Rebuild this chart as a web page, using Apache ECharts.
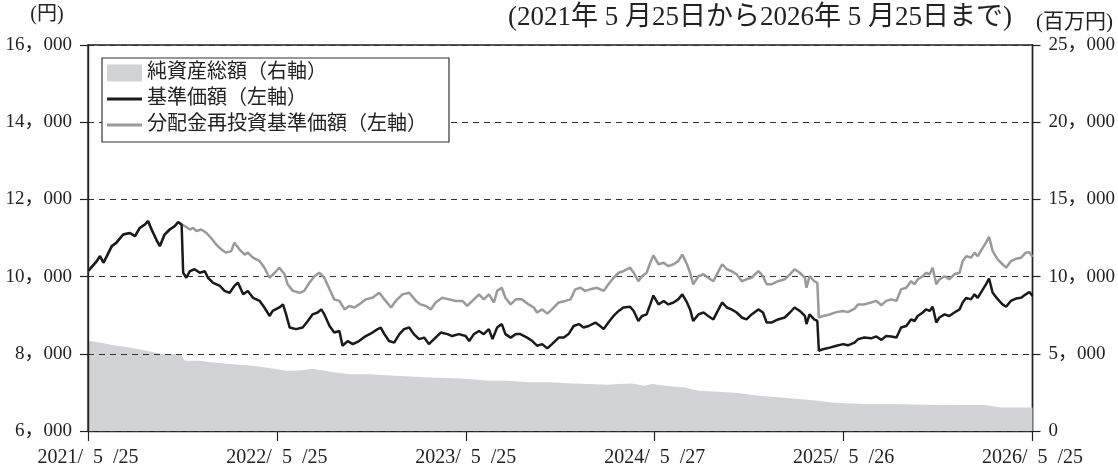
<!DOCTYPE html>
<html><head><meta charset="utf-8">
<script src="https://cdn.jsdelivr.net/npm/echarts@6/dist/echarts.min.js"></script>
<style>html,body{margin:0;padding:0;background:#fff}#c{width:1118px;height:468px}</style>
</head><body><div id="c"></div>
<script>
// x values: days elapsed since 2021/5/25
const xTickLabels = ['2021/\u20025\u2002/25','2022/\u20025\u2002/25','2023/\u20025\u2002/25','2024/\u20025\u2002/27','2025/\u20025\u2002/26','2026/\u20025\u2002/25'];
const seriesNames = ['純資産総額（右軸）','基準価額（左軸）','分配金再投資基準価額（左軸）'];

const navDays = [0,17,23,30,46,55,68,81,91,100,110,116,123,132,139,148,158,168,174,181,
184,190,197,206,216,226,232,242,255,264,274,283,290,300,309,319,332,341,351,357,
370,377,383,390,402,415,425,434,444,451,457,467,
476,486,492,502,512,524,537,550,560,566,573,582,592,602,611,621,630,640,650,659,
672,682,695,704,717,730,737,746,756,765,775,782,791,800,807,817,827,836,849,859,
868,878,888,897,910,920,929,939,949,958,968,981,990,
997,1006,1016,1026,1035,1048,1055,1064,1071,1080,1087,1093,1103,1113,1122,1132,1141,1149,1158,1164,
1170,1180,1190,1199,1209,1219,1226,1235,1244,1254,1264,1273,1283,1296,1305,1312,1321,1334,1347,1357,
1366,1376,1386,1389,1395,1404,1410,1413,1421,1434,1447,1460,1469,1482,
1489,1501,1514,1524,1534,1543,1553,1563,1572,1582,1591,1598,1604,1614,1620,1627,1633,1640,1646,1656,
1665,1675,1685,1691,1698,1707,1714,1720,1730,1736,1742,1749,1759,1768,1775,1784,1794,1804,1813,1820,1826];
const navValues = [10140,10400,10530,10360,10790,10880,11090,11130,11050,11260,11350,11440,11220,10960,10790,11090,11220,11310,11410,11350,
10100,9970,10140,10190,10100,10140,9970,9840,9760,9630,9580,9760,9840,9540,9630,9450,9370,9200,8980,9110,
9200,9280,9020,8680,8640,8680,8850,9020,9070,9150,9020,8720,
8550,8590,8210,8330,8250,8330,8460,8550,8640,8680,8510,8330,8290,8510,8640,8680,8510,8380,8420,8250,
8420,8550,8510,8460,8510,8460,8330,8510,8590,8510,8640,8380,8680,8770,8510,8420,8510,8510,8420,8330,
8210,8250,8140,8250,8420,8420,8510,8720,8770,8680,8720,8810,8720,
8640,8810,8980,9110,9200,9220,9110,8850,8980,9020,9280,9510,9280,9370,9280,9330,9410,9540,9330,9150,
8850,9020,9070,8980,8890,9150,9330,9200,9150,9070,8940,8890,9020,9150,9070,8810,8810,8890,8940,9070,
9200,9110,8980,8770,9020,8890,8850,8080,8120,8160,8210,8250,8220,8290,
8380,8420,8400,8450,8360,8460,8450,8420,8680,8720,8890,8850,8980,9070,9150,9110,9220,8810,8940,9020,
8980,9070,9150,9330,9450,9410,9540,9450,9670,9800,9950,9580,9410,9280,9220,9370,9430,9450,9540,9600,9500];

const reinvDays = [0,17,23,30,46,55,68,81,91,100,110,116,123,132,139,148,158,168,174,181,
187,197,203,210,219,229,238,248,258,267,277,283,293,303,309,319,332,341,351,361,
370,380,386,396,409,418,428,438,447,457,467,
476,486,496,505,515,524,537,550,563,573,586,595,608,621,634,643,653,663,672,685,
698,711,724,733,743,756,765,775,785,791,800,807,817,827,839,852,862,868,878,888,
897,910,923,933,942,952,961,971,984,
997,1006,1016,1026,1035,1048,1055,1064,1071,1080,1087,1093,1103,1113,1122,1132,1141,1149,1158,1164,
1170,1180,1190,1199,1209,1219,1226,1235,1244,1254,1264,1273,1283,1296,1305,1312,1321,1334,1347,1357,
1366,1376,1386,1389,1395,1404,1410,1413,1421,1434,1447,1460,1469,1482,
1489,1501,1514,1524,1534,1543,1553,1563,1572,1582,1591,1598,1604,1614,1620,1627,1633,1640,1646,1656,
1665,1675,1685,1691,1698,1707,1714,1720,1730,1736,1742,1749,1759,1768,1775,1784,1794,1804,1813,1820,1826];
const reinvValues = [10140,10400,10530,10360,10790,10880,11090,11130,11050,11260,11350,11440,11220,10960,10790,11090,11220,11310,11410,11350,
11310,11220,11260,11180,11220,11130,11000,10830,10700,10620,10660,10880,10700,10570,10620,10490,10400,10230,9970,10100,
10230,10060,9800,9630,9580,9630,9840,10010,10100,9970,9670,
9410,9370,9150,9240,9200,9280,9410,9450,9580,9410,9200,9370,9540,9580,9370,9280,9240,9150,9330,9450,
9410,9370,9370,9240,9370,9540,9410,9540,9330,9630,9710,9450,9280,9410,9410,9280,9200,9070,9150,9040,
9150,9330,9370,9410,9670,9710,9630,9670,9710,
9630,9800,9970,10100,10140,10230,10100,9880,10010,10100,10360,10550,10320,10360,10270,10320,10400,10570,10320,10100,
9800,10010,10060,9970,9880,10140,10320,10190,10140,10060,9880,9930,9970,10140,10010,9800,9800,9880,9930,10060,
10190,10100,9970,9710,10010,9880,9840,8940,8980,9020,9080,9110,9080,9170,
9280,9280,9330,9370,9260,9370,9410,9370,9670,9710,9880,9800,9930,10010,10100,10060,10230,9800,9930,10010,
9930,10060,10100,10400,10530,10490,10620,10530,10750,10880,11030,10660,10440,10320,10230,10400,10460,10490,10620,10630,10510];

const assetDays = [0,23,49,81,113,142,171,181,187,216,242,280,319,344,383,402,434,460,467,505,
544,595,659,724,775,814,852,891,929,968,1006,1026,1051,1077,1090,1116,1154,1180,1219,1257,
1296,1334,1373,1411,1437,1463,1501,1553,1617,1681,1733,1765,1826];
const assetValues = [5840,5730,5560,5410,5190,4980,4980,4910,4550,4550,4440,4330,4220,4110,3900,3900,4010,3900,3830,3680,
3680,3580,3470,3400,3250,3250,3150,3150,3100,3040,2990,3040,3080,2930,3040,2930,2820,2610,2540,2460,
2280,2180,2070,1960,1850,1790,1750,1750,1700,1680,1680,1530,1530];

const leftTicks = {min: 6000, max: 16000, interval: 2000};
const rightTicks = {min: 0, max: 25000, interval: 5000};
const xRange = {min: 0, max: 1826};

const FONT = "'Liberation Serif','Noto Sans CJK JP',serif";
const fmt = v => { if (v < 1000) return String(v); const s = String(v); return s.slice(0, s.length-3) + '，' + s.slice(-3); };
const pairs = (xs, ys) => xs.map((x, i) => [x, ys[i]]);
const C_AREA = '#d2d3d5', C_NAV = '#1a1a1a', C_RE = '#9a9a9a', C_AX = '#222';

const chart = echarts.init(document.getElementById('c'), null, {renderer: 'canvas'});
chart.setOption({
  animation: false,
  grid: {left: 88, right: 83, top: 45, bottom: 36, show: true, borderColor: C_AX, borderWidth: 1.4, backgroundColor: 'transparent'},
  xAxis: {
    type: 'value', min: xRange.min, max: xRange.max, interval: (xRange.max - xRange.min) / 5,
    axisLine: {show: true, lineStyle: {color: C_AX, width: 1.4}},
    axisTick: {show: true, length: 10, lineStyle: {color: C_AX, width: 1.2}},
    splitLine: {show: false},
    axisLabel: {margin: 17, fontSize: 20, color: C_AX, fontFamily: FONT,
      formatter: v => xTickLabels[Math.round(v / ((xRange.max - xRange.min) / 5))] || ''}
  },
  yAxis: [{
    type: 'value', position: 'left', min: leftTicks.min, max: leftTicks.max, interval: leftTicks.interval, z: 3,
    axisLine: {show: true, lineStyle: {color: C_AX, width: 1.4}},
    axisTick: {show: true, length: 8, lineStyle: {color: C_AX, width: 1.2}},
    splitLine: {show: true, lineStyle: {color: '#333', width: 1, type: [6, 5]}},
    axisLabel: {margin: 16, fontSize: 19, color: C_AX, fontFamily: FONT, formatter: fmt}
  }, {
    type: 'value', position: 'right', min: rightTicks.min, max: rightTicks.max, interval: rightTicks.interval,
    axisLine: {show: true, lineStyle: {color: C_AX, width: 1.4}},
    axisTick: {show: true, length: 8, lineStyle: {color: C_AX, width: 1.2}},
    splitLine: {show: false},
    axisLabel: {margin: 16, fontSize: 19, color: C_AX, fontFamily: FONT, formatter: fmt}
  }],
  legend: {
    left: 102, top: 58, orient: 'vertical', itemWidth: 35, itemHeight: 17, itemGap: 6,
    padding: [5, 22, 7, 5], borderColor: '#333', borderWidth: 1.2, backgroundColor: '#fff',
    selectedMode: false, z: 10, symbolKeepAspect: true,
    textStyle: {fontSize: 20, color: C_AX, fontFamily: FONT},
    data: [
      {name: seriesNames[0], icon: 'rect', itemStyle: {color: C_AREA}},
      {name: seriesNames[1], icon: 'path://M0,0H35V3H0Z', itemStyle: {color: C_NAV}},
      {name: seriesNames[2], icon: 'path://M0,0H35V3H0Z', itemStyle: {color: C_RE}}
    ]
  },
  graphic: [
    {type: 'text', x: 47, y: 15, z: 20, style: {text: '(円)', fontSize: 20, fontFamily: FONT, fill: C_AX, align: 'center', verticalAlign: 'middle', textAlign: 'center', textVerticalAlign: 'middle'}},
    {type: 'text', x: 508, y: 18, z: 20, style: {text: '(2021年 5 月25日から2026年 5 月25日まで)', fontSize: 27, fontFamily: FONT, fill: C_AX, align: 'left', verticalAlign: 'middle', textAlign: 'left', textVerticalAlign: 'middle'}},
    {type: 'text', x: 1113, y: 22, z: 20, style: {text: '(百万円)', fontSize: 21, fontFamily: FONT, fill: C_AX, align: 'right', verticalAlign: 'middle', textAlign: 'right', textVerticalAlign: 'middle'}}
  ],
  series: [
    {name: seriesNames[0], type: 'line', yAxisIndex: 1, data: pairs(assetDays, assetValues), symbol: 'none',
     color: C_AREA, lineStyle: {width: 0}, areaStyle: {color: C_AREA, opacity: 1}, z: 2, silent: true},
    {name: seriesNames[2], type: 'line', yAxisIndex: 0, data: pairs(reinvDays, reinvValues), symbol: 'none',
     color: C_RE, lineStyle: {color: C_RE, width: 2.5}, z: 5, silent: true},
    {name: seriesNames[1], type: 'line', yAxisIndex: 0, data: pairs(navDays, navValues), symbol: 'none',
     color: C_NAV, lineStyle: {color: C_NAV, width: 2.5}, z: 6, silent: true}
  ]
});
</script></body></html>
